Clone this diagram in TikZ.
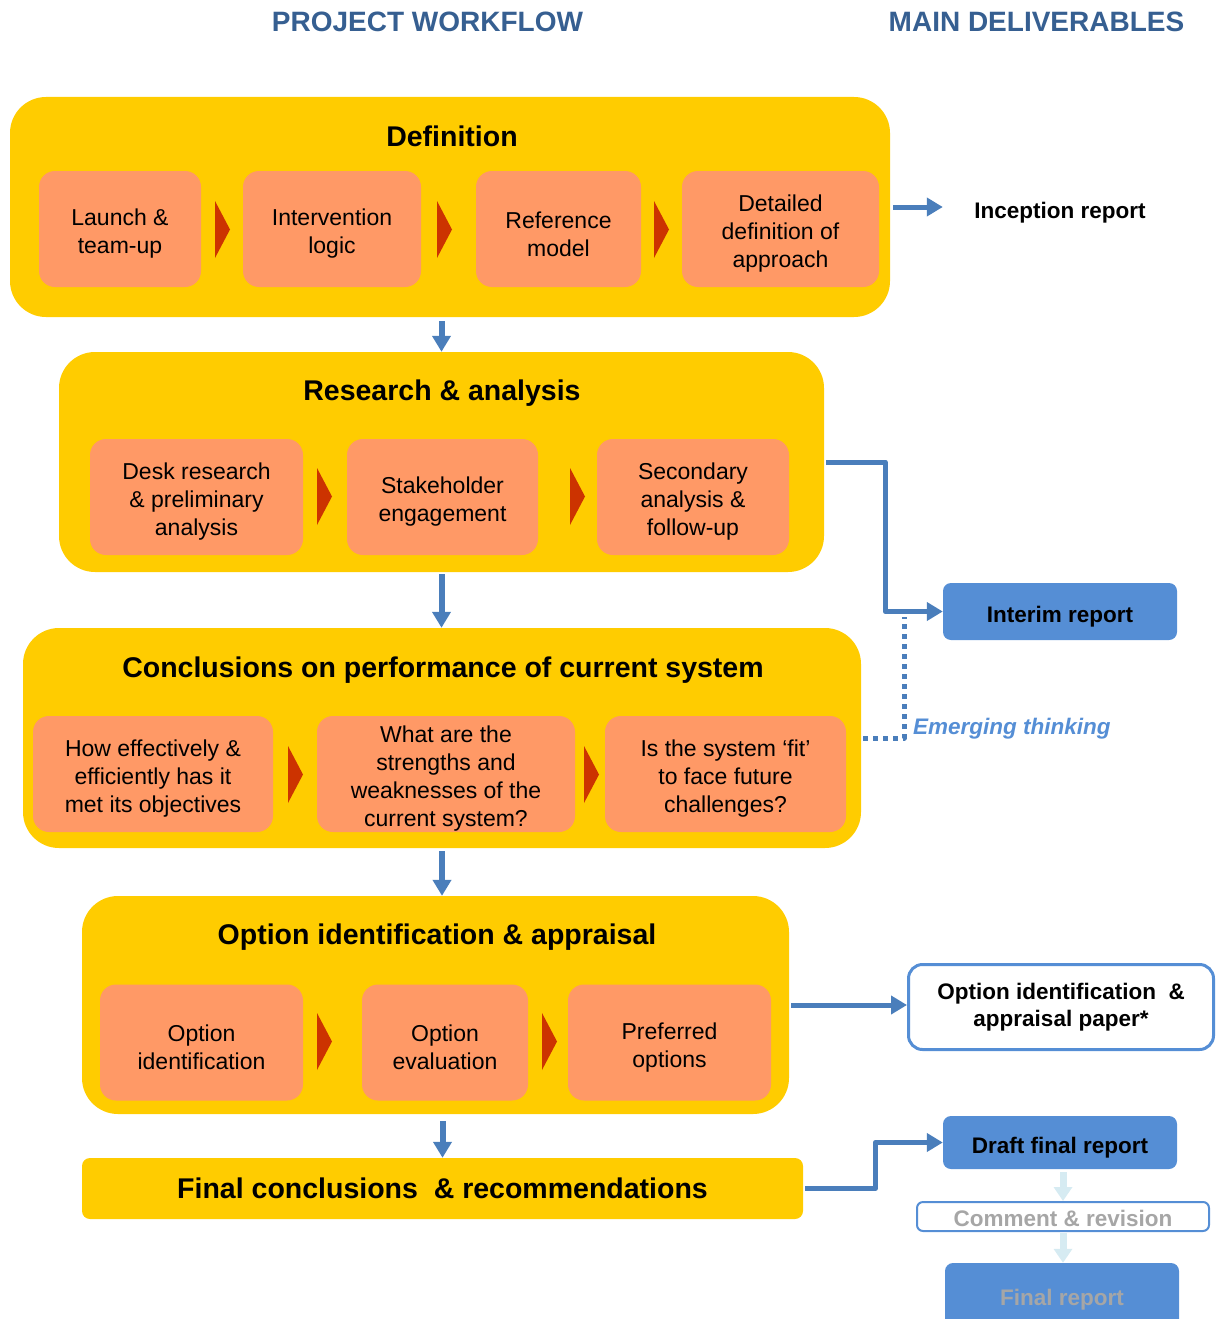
\documentclass[tikz,border=0pt]{standalone}
\usepackage{fontspec}
\setmainfont{Liberation Sans}
\usetikzlibrary{arrows.meta,calc}
\definecolor{gold}{HTML}{FFCC00}
\definecolor{salmon}{HTML}{FF9966}
\definecolor{rust}{HTML}{CC3300}
\definecolor{flowblue}{HTML}{4A7EBB}
\definecolor{delblue}{HTML}{558ED5}
\definecolor{headblue}{HTML}{365F91}
\definecolor{paleblue}{HTML}{D6EBF2}
\definecolor{greytext}{HTML}{A6A6A6}
\begin{document}
\begin{tikzpicture}[x=1pt,y=-1pt,line join=round,
	stage/.style={fill=gold,rounded corners=36pt,inner sep=0pt},
	task/.style={fill=salmon,rounded corners=16pt,minimum height=116pt,inner sep=0pt},
	tasktext/.style={align=center,inner sep=0pt,font=\fontsize{23}{28}\selectfont},
	title/.style={font=\fontsize{28.5}{32}\selectfont\bfseries},
	heading/.style={font=\fontsize{28}{32}\selectfont\bfseries,text=headblue},
	deliv/.style={font=\fontsize{22.5}{27}\selectfont\bfseries,align=center,execute at begin node=\rule{0pt}{#1}},
	deliv/.default=23pt,
	report/.style={deliv=#1,fill=delblue,rounded corners=8pt,minimum width=234pt},
	report/.default=27pt,
	chev/.style={fill=rust},
	flow/.style={draw=flowblue,line width=5pt,-{Triangle[width=18pt,length=16pt]}},
	lightflow/.style={draw=paleblue,line width=7pt,-{Triangle[width=18pt,length=14pt]}}]
	\def\tasknode#1#2#3#4{
		\node[task,minimum width=#3] (#1) at (#2) {};
		\node[tasktext] (#1t) at ([yshift=-5pt]#1.center) {#4};
	}
	\useasboundingbox (0,0) rectangle (1223,1319);
	\clip (0,0) rectangle (1223,1319);
	% headings
	\node[heading] (hwf) at (427.5,22) {PROJECT WORKFLOW};
	\node[heading] (hdel) at (1036.5,22) {MAIN DELIVERABLES};
	% stages
	\node[stage,minimum width=880pt,minimum height=220pt] (def) at (450,207) {};
	\node[stage,minimum width=765pt,minimum height=220pt] (res) at (441.5,462) {};
	\node[stage,minimum width=838pt,minimum height=220pt] (conc) at (442,738) {};
	\node[stage,minimum width=707pt,minimum height=218pt] (opt) at (435.5,1005) {};
	\node[stage,rounded corners=8pt,minimum width=721pt,minimum height=61pt,title] (fin) at (442.5,1188.5) {Final conclusions \ \& recommendations};
	\node[title] (defT) at (452,136) {Definition};
	\node[title] (resT) at (442,393) {Research \& analysis};
	\node[title] (concT) at (443,670) {Conclusions on performance of current system};
	\node[title] (optT) at (437,937) {Option identification \& appraisal};
	% tasks
	\tasknode{lau}{120,229}{162pt}{Launch \&\\team-up}
	\tasknode{int}{332,229}{178pt}{Intervention\\logic}
	\tasknode{ref}{558.5,229}{165pt}{Reference\\model}
	\tasknode{det}{780.5,229}{197pt}{Detailed\\definition of\\approach}
	\tasknode{desk}{196.5,497}{213pt}{Desk research\\\& preliminary\\analysis}
	\tasknode{stk}{442.5,497}{191pt}{Stakeholder\\engagement}
	\tasknode{sec}{693,497}{192pt}{Secondary\\analysis \&\\follow-up}
	\tasknode{how}{153,774}{240pt}{How effectively \&\\efficiently has it\\met its objectives}
	\tasknode{what}{446,774}{258pt}{What are the\\strengths and\\weaknesses of the\\current system?}
	\tasknode{fit}{725.5,774}{241pt}{Is the system `fit'\\to face future\\challenges?}
	\tasknode{oid}{201.5,1042.5}{203pt}{Option\\identification}
	\tasknode{oev}{445,1042.5}{166pt}{Option\\evaluation}
	\tasknode{pref}{669.5,1042.5}{203pt}{Preferred\\options}
	\foreach \x/\y in {215/201,437/201,654/201,317/468,570/468,288/746,584/746,317/1013,542/1013}
	{
		\fill[chev] (\x,\y) -- ++(15,28.5) -- ++(-15,28.5) -- cycle;
	}
	% deliverables
	\node[deliv] (incep) at (1060,209) {Inception report};
	\node[report,minimum height=57pt] (intr) at (1060,611.5) {Interim report};
	\node[deliv,draw=delblue,fill=white,line width=3pt,rounded corners=14pt,minimum width=305pt,minimum height=85pt] (paper) at (1061,1007) {Option identification \ \&\\appraisal paper*};
	\node[report,minimum height=53pt] (draft) at (1060,1142.5) {Draft final report};
	\node[deliv=21pt,draw=delblue,fill=white,line width=2pt,rounded corners=6pt,minimum width=292pt,minimum height=29pt,inner sep=0pt,text=greytext] (com) at (1063,1216.5) {Comment \& revision};
	\node[report=23pt,minimum height=66pt,text=greytext] (finr) at (1062,1296) {Final report};
	\node[font=\fontsize{22.5}{27}\selectfont\bfseries\itshape,text=delblue,anchor=west,inner sep=0pt] (emt) at (913,729) {Emerging thinking};
	\coordinate (emg) at (904,617);
	% connectors
	\draw[flow,line width=6pt,shorten <=4pt] (def.south -| res.north) -- (res.north);
	\draw[flow,line width=6pt,shorten <=2pt] (res.south) -- (res.south |- conc.north);
	\draw[flow,line width=6pt,shorten <=3pt] (conc.south) -- (conc.south |- opt.north);
	\draw[flow,line width=6pt,shorten <=7pt] (fin.north |- opt.south) -- (fin.north);
	\draw[flow,shorten <=3pt] (def.east) -- (def.east -| intr.west);
	\draw[flow,shorten <=2pt] (res.east) -- ++(61,0) |- (intr.west);
	\draw[flowblue,line width=5pt,dash pattern=on 5pt off 5pt,shorten <=2pt] (conc.east) -| (emg);
	\draw[flow,shorten <=2pt] (opt.east) -- (opt.east -| paper.west);
	\draw[flow,shorten <=2pt] (fin.east) -- ++(72,0) |- (draft.west);
	\draw[lightflow,shorten <=3pt] (draft.south -| com.north) -- (com.north);
	\draw[lightflow,shorten <=1pt] (com.south) -- (com.south |- finr.north);
\end{tikzpicture}
\end{document}
